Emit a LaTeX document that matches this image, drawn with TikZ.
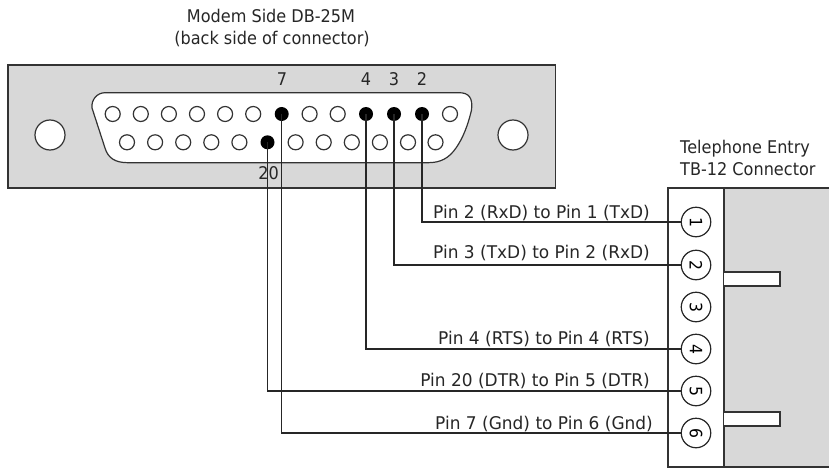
\documentclass[tikz,border=0pt]{standalone}
\usepackage{fontspec}
\setmainfont{DejaVu Sans}[FakeStretch=0.92]
\newfontfamily\wirefont{DejaVu Sans}[FakeStretch=0.97]
\definecolor{panel}{HTML}{D8D8D8}
\definecolor{ink}{HTML}{333333}
\tikzset{
  lbl/.style={font=\fontsize{17.5}{20}\selectfont,inner sep=0pt,text=black!85,anchor=base},
  wlbl/.style={font=\wirefont\fontsize{17.5}{20}\selectfont,inner sep=0pt,text=black!85,anchor=base east},
  hole/.style={circle,draw=ink,line width=1.2pt,fill=white,minimum size=15pt,inner sep=0pt},
  pinon/.style={circle,fill=black,minimum size=14pt,inner sep=0pt},
  mount/.style={circle,draw=ink,line width=1.2pt,fill=white,minimum size=30pt,inner sep=0pt},
  term/.style={circle,draw=black!85,line width=1.2pt,fill=white,minimum size=29.5pt,inner sep=0pt,font=\fontsize{17}{18}\selectfont},
  wire/.style={draw=black!85,line width=1.2pt},
  frame/.style={draw=ink,line width=1.2pt}
}
\begin{document}
\begin{tikzpicture}[x=1pt,y=-1pt]
\useasboundingbox (0,0) rectangle (829,468);
% DB-25 panel
\path[frame,fill=panel] (8,65) rectangle (555.5,188);
\path[frame,fill=white] (105,92.7) -- (459,92.7)
  .. controls (469,92.7) and (473,98) .. (471.5,110)
  .. controls (468,125) and (463,138) .. (456,148)
  .. controls (449,158) and (441,162.7) .. (428,162.7)
  -- (128,162.7)
  .. controls (115,162.7) and (108,158) .. (105,148)
  -- (92,108)
  .. controls (91,100) and (97,92.7) .. (105,92.7) -- cycle;
\node[mount] (mL) at (50,135) {};
\node[mount] (mR) at (513,135) {};
% top row
\foreach \n/\x in {13/112.7,12/140.8,11/168.9,10/197,9/225.1,8/253.2,6/309.6,5/337.7,1/450} {
  \node[hole] (p\n) at (\x,114) {};
}
\node[pinon] (p7) at (281.7,114) {};
\node[pinon] (p4) at (366,114) {};
\node[pinon] (p3) at (394,114) {};
\node[pinon] (p2) at (422,114) {};
% bottom row
\foreach \n/\x in {25/127,24/155.1,23/183.2,22/211.3,21/239.4,19/295.6,18/323.7,17/351.8,16/379.9,15/408,14/435.5} {
  \node[hole] (p\n) at (\x,142.3) {};
}
\node[pinon] (p20) at (267.5,142.3) {};
% TB-12 connector
\path[fill=panel] (724,188) rectangle (829,467);
\path[fill=white] (668,188) rectangle (724,467);
\draw[frame] (829,188) -- (668,188) -- (668,467) -- (829,467);
\draw[frame] (724,188) -- (724,467);
\path[frame,fill=white] (724,272) -- (780,272) -- (780,286) -- (724,286);
\path[frame,fill=white] (724,412) -- (780,412) -- (780,426) -- (724,426);
% wire bends
\coordinate (b2) at (422,222);
\coordinate (b3) at (394,265);
\coordinate (b4) at (366,349);
\coordinate (b20) at (267.5,391);
\coordinate (b7) at (281.7,433);
% terminals
\foreach \n/\y in {1/222,2/265,3/307,4/349,5/391,6/433} {
  \node[term] (t\n) at (696,\y) {\rotatebox{-90}{\n}};
}
\draw[wire] (p2.center) -- (b2) -- (t1);
\draw[wire] (p3.center) -- (b3) -- (t2);
\draw[wire] (p4.center) -- (b4) -- (t4);
\draw[wire] (p20.center) -- (b20) -- (t5);
\draw[wire] (p7.center) -- (b7) -- (t6);
% labels
\node[lbl] (title1) at (271,23) {Modem Side DB-25M};
\node[lbl] (title2) at (272,45) {(back side of connector)};
\node[lbl,anchor=base west] (title3) at (680,153) {Telephone Entry};
\node[lbl,anchor=base west] (title4) at (680,175) {TB-12 Connector};
\node[lbl] (n7) at (282,86) {7};
\node[lbl] (n4) at (366,86) {4};
\node[lbl] (n3) at (394,86) {3};
\node[lbl] (n2) at (422,86) {2};
\node[lbl] (n20) at (268.5,179) {20};
\node[wlbl] (w1) at (650,218) {Pin 2 (RxD) to Pin 1 (TxD)};
\node[wlbl] (w2) at (650,258) {Pin 3 (TxD) to Pin 2 (RxD)};
\node[wlbl] (w4) at (650,344) {Pin 4 (RTS) to Pin 4 (RTS)};
\node[wlbl] (w5) at (650,386) {Pin 20 (DTR) to Pin 5 (DTR)};
\node[wlbl] (w6) at (653,429) {Pin 7 (Gnd) to Pin 6 (Gnd)};
\end{tikzpicture}
\end{document}
